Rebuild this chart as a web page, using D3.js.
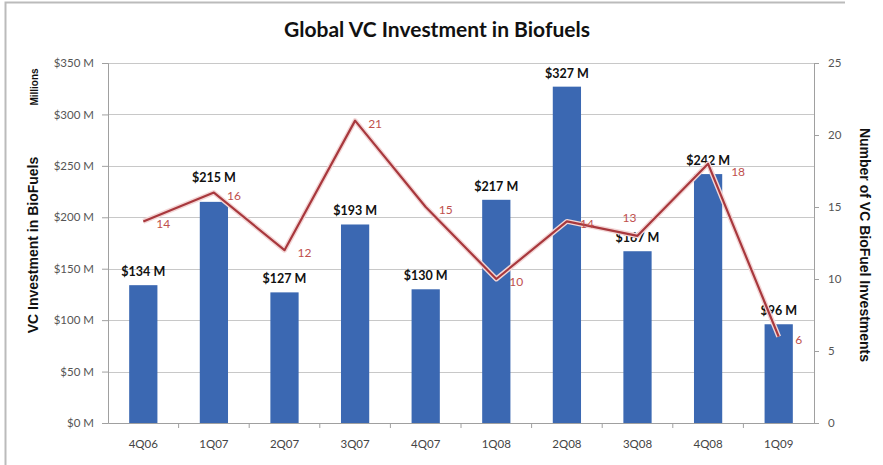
<!DOCTYPE html>
<html><head><meta charset="utf-8">
<script src="https://cdn.jsdelivr.net/npm/d3@7"></script>
<style>body{margin:0;background:#fff}svg{display:block}</style>
</head><body>
<script>
const categories = ["4Q06","1Q07","2Q07","3Q07","4Q07","1Q08","2Q08","3Q08","4Q08","1Q09"];
const investment = [134,215,127,193,130,217,327,167,242,96];
const dealCount = [14,16,12,21,15,10,14,13,18,6];
const leftTicks = [0,50,100,150,200,250,300,350];
const rightTicks = [0,5,10,15,20,25];

const W = 883, H = 465;
const m = {left:108, right:814, top:63, bottom:423};
const svg = d3.select("body").append("svg").attr("width",W).attr("height",H);
const font = "Lato, 'Open Sans', sans-serif";

// frame
svg.append("path").attr("d",`M5.5,${H} V2.5 H845`).attr("fill","none").attr("stroke","#bbb").attr("stroke-width",2);

const x = d3.scaleBand().domain(categories).range([m.left,m.right]);
const yL = d3.scaleLinear().domain([0,350]).range([m.bottom,m.top]);
const yR = d3.scaleLinear().domain([0,25]).range([m.bottom,m.top]);

// gridlines
svg.append("g").selectAll("line").data(leftTicks.filter(d=>d>0)).join("line")
  .attr("x1",m.left).attr("x2",m.right).attr("y1",d=>Math.round(yL(d))+0.5).attr("y2",d=>Math.round(yL(d))+0.5)
  .attr("stroke","#c8c8c8").attr("stroke-width",1);

// left axis
const gl = svg.append("g").attr("transform",`translate(${m.left},0)`)
  .call(d3.axisLeft(yL).tickValues(leftTicks).tickSize(6).tickPadding(8).tickFormat(d=>"$"+d+" M"));
gl.select(".domain").attr("stroke","#a0a0a0");
gl.selectAll(".tick line").attr("stroke","#a0a0a0");
gl.selectAll("text").attr("font-family",font).attr("font-size",11.5).attr("fill","#555");

// right axis
const gr = svg.append("g").attr("transform",`translate(${m.right},0)`)
  .call(d3.axisRight(yR).tickValues(rightTicks).tickSize(5).tickPadding(9));
gr.select(".domain").attr("stroke","#a0a0a0");
gr.selectAll(".tick line").attr("stroke","#a0a0a0");
gr.selectAll("text").attr("font-family",font).attr("font-size",11.5).attr("fill","#555");

// bars
svg.append("g").selectAll("rect").data(investment).join("rect")
  .attr("x",(d,i)=>x(categories[i])+x.bandwidth()*0.3)
  .attr("width",x.bandwidth()*0.4)
  .attr("y",d=>yL(d)).attr("height",d=>m.bottom-yL(d))
  .attr("fill","#3b68b2");

// x axis
const gx = svg.append("g").attr("transform",`translate(0,${m.bottom})`)
  .call(d3.axisBottom(x).tickSize(0).tickPadding(17));
gx.select(".domain").attr("stroke","#a0a0a0");
gx.selectAll("text").attr("font-family",font).attr("font-size",11.5).attr("fill","#444");
svg.append("g").selectAll("line").data(categories.slice(1)).join("line")
  .attr("x1",d=>x(d)).attr("x2",d=>x(d)).attr("y1",m.bottom).attr("y2",m.bottom+5)
  .attr("stroke","#a0a0a0");

// bar value labels
svg.append("g").selectAll("text").data(investment).join("text")
  .attr("x",(d,i)=>x(categories[i])+x.bandwidth()/2)
  .attr("y",(d,i)=>yL(d)-(i===1?20:9))
  .attr("text-anchor","middle").attr("font-family",font).attr("font-weight","bold")
  .attr("font-size",12.5).attr("fill","#111").text(d=>"$"+d+" M");

// line
const line = d3.line().x((d,i)=>x(categories[i])+x.bandwidth()/2).y(d=>yR(d));
svg.append("path").datum(dealCount).attr("d",line).attr("fill","none")
  .attr("stroke","#f3d6d6").attr("stroke-width",5).attr("stroke-linejoin","round");
svg.append("path").datum(dealCount).attr("d",line).attr("fill","none")
  .attr("stroke","#a8383d").attr("stroke-width",2.2).attr("stroke-linejoin","round");

// count labels
svg.append("g").selectAll("text").data(dealCount).join("text")
  .attr("x",(d,i)=>x(categories[i])+x.bandwidth()/2 + (i===7?-8:(i===8?30:20)))
  .attr("y",(d,i)=>yR(d) + (i===7?-14:(i===8?12:7)))
  .attr("text-anchor","middle").attr("font-family",font)
  .attr("font-size",12).attr("fill","#c0504d").text(d=>d);

// title
svg.append("text").attr("x",437).attr("y",37).attr("text-anchor","middle")
  .attr("font-family",font).attr("font-weight","bold").attr("font-size",21).attr("fill","#111")
  .text("Global VC Investment in Biofuels");

// axis titles
svg.append("text").attr("transform","translate(38,245) rotate(-90)").attr("text-anchor","middle")
  .attr("font-family","Liberation Sans, Arial, sans-serif").attr("font-weight","bold").attr("font-size",14).attr("fill","#111")
  .text("VC Investment in BioFuels");
svg.append("text").attr("transform","translate(38,87) rotate(-90)").attr("text-anchor","middle")
  .attr("font-family","Liberation Sans, Arial, sans-serif").attr("font-weight","bold").attr("font-size",10).attr("fill","#111")
  .text("Millions");
svg.append("text").attr("transform","translate(860,245) rotate(90)").attr("text-anchor","middle")
  .attr("font-family","Liberation Sans, Arial, sans-serif").attr("font-weight","bold").attr("font-size",14).attr("fill","#111")
  .text("Number of VC BioFuel Investments");
</script>
</body></html>
